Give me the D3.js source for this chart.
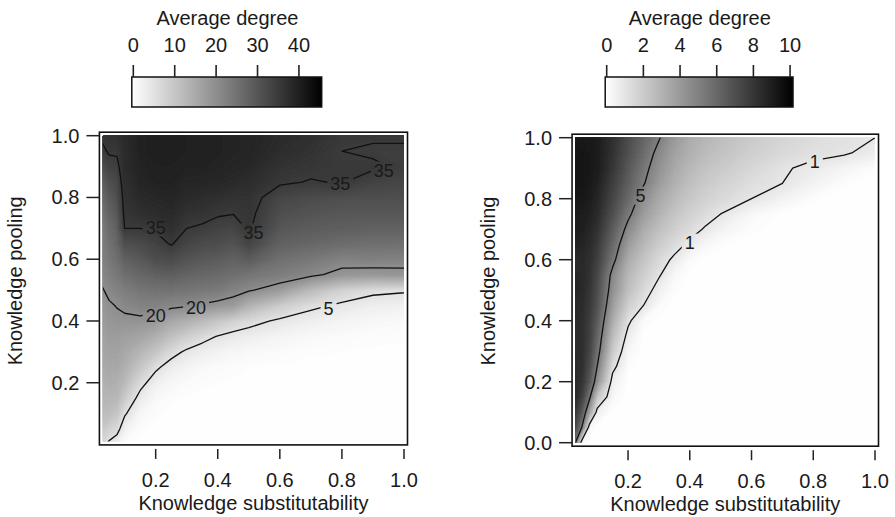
<!DOCTYPE html>
<html>
<head>
<meta charset="utf-8">
<script src="https://cdn.jsdelivr.net/npm/d3@7"></script>
<style>
  body { margin: 0; background: #fff; }
  text { font-family: "Liberation Sans", Arial, Helvetica, sans-serif; fill: #1a1a1a; }
</style>
</head>
<body>
<svg id="chart" width="895" height="517"></svg>
<script>
// GRID
// x nodes (knowledge substitutability) and y nodes (knowledge pooling)
var xNodes = [0.025, 0.05, 0.075, 0.1, 0.15, 0.2, 0.25, 0.3, 0.35, 0.4, 0.45, 0.5, 0.6, 0.7, 0.8, 0.9, 1.0];
var yNodes = [0, 0.05, 0.1, 0.15, 0.2, 0.25, 0.3, 0.35, 0.4, 0.45, 0.5, 0.55, 0.6, 0.65, 0.7, 0.75, 0.8, 0.85, 0.9, 0.95, 1.0];

// LEFT PANEL
// Average degree, one array per x node, read bottom (y=0) to top (y=1)
var leftCols = [
    [7, 10, 12, 13, 14, 15, 16, 16.5, 17, 18, 19.5, 21, 22, 22.5, 23, 24, 26, 28, 31, 34, 35.5],
    [4, 8, 11.5, 13, 14.5, 15.5, 16.5, 17.5, 18.5, 19.5, 21, 22.5, 24, 25, 26, 27.5, 29, 31, 33.5, 35.5, 36.5],
    [2.5, 6.5, 10, 12.5, 14, 15.5, 16.5, 17.5, 19, 20.2, 22, 24, 25.5, 27, 28, 29.5, 31, 32.5, 34, 35.5, 36.5],
    [0.5, 2.5, 5.5, 9, 12, 14, 15.5, 17, 19, 21, 23, 25.5, 28, 31, 35, 36, 36.5, 37, 37.5, 37.5, 38],
    [0, 0.5, 1.5, 3.5, 6.5, 10, 13, 16, 19, 22, 24.5, 27, 29.5, 32, 35, 37, 38, 38.8, 39.2, 39.5, 39.5],
    [0, 0, 0.5, 1.2, 2.8, 5.8, 10, 14, 18, 22, 25, 28, 31.5, 33.5, 35.5, 37.5, 38.5, 39.5, 39.7, 40, 40],
    [0, 0, 0, 0.5, 1.5, 3.2, 6.5, 11, 15.5, 21, 25, 28.5, 32, 35.3, 37, 38, 38.8, 39.5, 39.7, 40, 40],
    [0, 0, 0, 0.2, 0.8, 2, 4.3, 8.5, 14, 20.5, 24.5, 27.5, 30.5, 33, 35, 36.5, 38, 38.8, 39.5, 39.7, 39.7],
    [0, 0, 0, 0.1, 0.5, 1.2, 3, 6.5, 12, 19.5, 24, 27, 29.5, 32, 34.5, 36.2, 37.5, 38.8, 39.5, 39.7, 39.7],
    [0, 0, 0, 0, 0.3, 0.8, 2.2, 4.8, 10, 18.5, 23.5, 26.5, 29, 31.5, 33.5, 35.5, 37, 38.5, 39.2, 39.5, 39.5],
    [0, 0, 0, 0, 0.2, 0.5, 1.6, 3.6, 8, 17.5, 22, 25.5, 28, 30.5, 33, 35.2, 36.5, 38, 38.8, 39.2, 39.2],
    [0, 0, 0, 0, 0.1, 0.3, 1.2, 3, 6.5, 13.5, 20.5, 24.5, 29, 33, 35.5, 36, 36.5, 37.5, 38.5, 39, 39],
    [0, 0, 0, 0, 0, 0.2, 0.8, 2, 4.3, 9, 17.5, 23, 25.5, 28, 30, 31.5, 33, 35.5, 36.5, 37.5, 38],
    [0, 0, 0, 0, 0, 0.1, 0.4, 1.2, 2.8, 6, 12, 21, 24, 27, 29, 30.5, 32, 34.8, 35.8, 36.5, 37],
    [0, 0, 0, 0, 0, 0.1, 0.3, 0.8, 2, 4.2, 8, 18.5, 22, 26, 28.5, 30, 31.5, 35.2, 35.3, 35, 35.5],
    [0, 0, 0, 0, 0, 0, 0.2, 0.5, 1.3, 3, 6, 18, 22.5, 25.5, 28, 30, 31.5, 33.5, 35.5, 34.5, 35.5],
    [0, 0, 0, 0, 0, 0, 0.1, 0.4, 1.1, 2.6, 5.5, 18.5, 22, 25.5, 28, 30, 31.5, 33, 34.5, 34.5, 35.5]
];
var leftLevels = [5, 20, 35];
var leftLabels = [
    { level: 35, x: 0.2, y: 0.703 }, { level: 35, x: 0.515, y: 0.687 },
    { level: 35, x: 0.795, y: 0.845 }, { level: 35, x: 0.935, y: 0.887 },
    { level: 20, x: 0.2, y: 0.417 }, { level: 20, x: 0.33, y: 0.444 },
    { level: 5, x: 0.757, y: 0.44 }
];
var leftYTicks = [0.2, 0.4, 0.6, 0.8, 1.0];
var leftBarTicks = [0, 10, 20, 30, 40];

// RIGHT PANEL
// Average degree, one array per y node (bottom to top), values along xNodes
var rightRows = [
    [6, 0.3, 0, 0, 0, 0, 0, 0, 0, 0, 0, 0, 0, 0, 0, 0, 0],
    [7.5, 5, 0.3, 0, 0, 0, 0, 0, 0, 0, 0, 0, 0, 0, 0, 0, 0],
    [8, 6.5, 3.5, 0.6, 0, 0, 0, 0, 0, 0, 0, 0, 0, 0, 0, 0, 0],
    [8.5, 7.5, 5.3, 2.2, 0.3, 0, 0, 0, 0, 0, 0, 0, 0, 0, 0, 0, 0],
    [8.5, 8, 6.5, 4.2, 0.6, 0, 0, 0, 0, 0, 0, 0, 0, 0, 0, 0, 0],
    [8.5, 8.2, 7, 5, 1.3, 0.1, 0, 0, 0, 0, 0, 0, 0, 0, 0, 0, 0],
    [8.5, 8.3, 7.3, 5.6, 2, 0.3, 0, 0, 0, 0, 0, 0, 0, 0, 0, 0, 0],
    [8.5, 8.3, 7.5, 6, 2.6, 0.7, 0, 0, 0, 0, 0, 0, 0, 0, 0, 0, 0],
    [8.5, 8.3, 7.6, 6.4, 3.2, 1.2, 0.2, 0, 0, 0, 0, 0, 0, 0, 0, 0, 0],
    [8.5, 8.4, 7.8, 6.8, 3.8, 1.9, 1.0, 0.2, 0, 0, 0, 0, 0, 0, 0, 0, 0],
    [8.7, 8.5, 8, 7, 4.3, 2.5, 1.5, 0.6, 0.1, 0, 0, 0, 0, 0, 0, 0, 0],
    [8.7, 8.5, 8.1, 7.2, 4.6, 2.8, 1.9, 1.1, 0.3, 0, 0, 0, 0, 0, 0, 0, 0],
    [8.3, 8.5, 8.2, 7.5, 5.4, 3.3, 2.3, 1.5, 0.8, 0.2, 0, 0, 0, 0, 0, 0, 0],
    [8.8, 8.7, 8.4, 7.8, 5.9, 3.9, 2.8, 2.0, 1.4, 0.8, 0.3, 0.1, 0, 0, 0, 0, 0],
    [9, 8.9, 8.6, 8.1, 6.4, 4.6, 3.3, 2.5, 1.9, 1.4, 0.9, 0.5, 0.1, 0, 0, 0, 0],
    [9, 9, 8.8, 8.4, 6.9, 5.3, 3.9, 3, 2.3, 1.8, 1.4, 1.0, 0.3, 0, 0, 0, 0],
    [9.2, 9.2, 9, 8.6, 7.3, 5.9, 4.4, 3.4, 2.7, 2.2, 1.8, 1.5, 1.0, 0.5, 0.1, 0, 0],
    [9.3, 9.3, 9.1, 8.8, 7.6, 6.3, 5.1, 3.9, 3.1, 2.5, 2.1, 1.8, 1.3, 1.0, 0.5, 0.1, 0],
    [9.3, 9.3, 9.2, 9, 7.9, 6.6, 5.4, 4.3, 3.4, 2.8, 2.4, 2.1, 1.6, 1.1, 0.8, 0.4, 0.1],
    [9.2, 9.3, 9.2, 9, 8.1, 6.9, 5.8, 4.6, 3.7, 3.1, 2.7, 2.4, 1.9, 1.5, 1.2, 1.1, 0.7],
    [9, 9.2, 9.2, 9, 8.2, 7.1, 6.1, 5.1, 4, 3.3, 2.9, 2.6, 2.1, 1.7, 1.4, 1.2, 1.0]
];
var rightLevels = [1, 5];
var rightLabels = [
    { level: 5, x: 0.24, y: 0.81 },
    { level: 1, x: 0.40, y: 0.656 },
    { level: 1, x: 0.805, y: 0.923 }
];
var rightYTicks = [0.0, 0.2, 0.4, 0.6, 0.8, 1.0];
var rightBarTicks = [0, 2, 4, 6, 8, 10];

var xTicks = [0.2, 0.4, 0.6, 0.8, 1.0];

// FLATTEN
// d3.contours wants values[row * n + col]
var nx = xNodes.length, ny = yNodes.length;
var leftValues = [], rightValues = [];
for (var j = 0; j < ny; j++) {
    for (var i = 0; i < nx; i++) {
        leftValues.push(leftCols[i][j]);
        rightValues.push(rightRows[j][i]);
    }
}

var svg = d3.select("#chart");
var defs = svg.append("defs");

// grid index -> data coordinate (piecewise, nodes are not evenly spaced)
var xIdx = d3.scaleLinear().domain(d3.range(nx)).range(xNodes);
var yIdx = d3.scaleLinear().domain(d3.range(ny)).range(yNodes);

function fmt(v) { return d3.format(".1f")(v); }

// FUNCTION
// Draws one heat map panel with its contour lines and axes
function drawPanel(p) {
    var color = d3.scaleLinear().domain([0, p.max]).range(["#ffffff", "#000000"]).clamp(true);
    var proj = d3.geoTransform({
        point: function(gx, gy) {
            this.stream.point(p.x(xIdx(gx - 0.5)), p.y(yIdx(gy - 0.5)));
        }
    });
    var path = d3.geoPath(proj);

    var left = p.x(0.03), right = p.x(1.0), top = p.y(1.0), bottom = p.y(p.yMin);

    defs.append("clipPath").attr("id", p.id + "-clip")
      .append("rect")
        .attr("x", left).attr("y", top)
        .attr("width", right - left).attr("height", bottom - top);

    // filled bands
    var step = p.max / 150;
    var bands = d3.contours().size([nx, ny]).thresholds(d3.range(0, p.max, step))(p.values);
    var g = svg.append("g").attr("clip-path", "url(#" + p.id + "-clip)");
    g.selectAll("path.band")
        .data(bands)
      .enter().append("path")
        .attr("class", "band")
        .attr("d", path)
        .attr("fill", function(d) { return color(d.value + step / 2); })
        .attr("stroke", function(d) { return color(d.value + step / 2); })
        .attr("stroke-width", 0.4);

    // gaps in the lines where the labels go
    var mask = defs.append("mask").attr("id", p.id + "-mask")
        .attr("maskUnits", "userSpaceOnUse")
        .attr("x", 0).attr("y", 0).attr("width", 895).attr("height", 517);
    mask.append("rect").attr("width", 895).attr("height", 517).attr("fill", "#fff");
    mask.selectAll("rect.gap")
        .data(p.labels)
      .enter().append("rect")
        .attr("class", "gap")
        .attr("x", function(d) { return p.x(d.x) - (String(d.level).length * 10 + 6) / 2; })
        .attr("y", function(d) { return p.y(d.y) - 9; })
        .attr("width", function(d) { return String(d.level).length * 10 + 6; })
        .attr("height", 18)
        .attr("fill", "#000");

    var lines = d3.contours().size([nx, ny]).thresholds(p.levels)(p.values);
    g.append("g").attr("mask", "url(#" + p.id + "-mask)")
        .selectAll("path")
        .data(lines)
      .enter().append("path")
        .attr("d", path)
        .attr("fill", "none")
        .attr("stroke", "#111")
        .attr("stroke-width", 1.3)
        .attr("stroke-linejoin", "round");

    g.selectAll("text.lab")
        .data(p.labels)
      .enter().append("text")
        .attr("class", "lab")
        .attr("x", function(d) { return p.x(d.x); })
        .attr("y", function(d) { return p.y(d.y) + 6.5; })
        .attr("text-anchor", "middle")
        .style("font-size", "18px")
        .text(function(d) { return d.level; });

    // box, inset a little from the image
    var pad = 3.5;
    var bx0 = left - pad, bx1 = right + pad, by0 = top - pad, by1 = bottom + pad;
    svg.append("rect")
        .attr("x", bx0).attr("y", by0)
        .attr("width", bx1 - bx0).attr("height", by1 - by0)
        .attr("fill", "none")
        .attr("stroke", "#111")
        .attr("stroke-width", 1.6);

    // y axis
    var ya = svg.append("g");
    ya.selectAll("line")
        .data(p.yTicks)
      .enter().append("line")
        .attr("x1", bx0 - 13).attr("x2", bx0)
        .attr("y1", function(d) { return p.y(d); })
        .attr("y2", function(d) { return p.y(d); })
        .attr("stroke", "#222").attr("stroke-width", 1.5);
    ya.selectAll("text")
        .data(p.yTicks)
      .enter().append("text")
        .attr("x", bx0 - 20)
        .attr("y", function(d) { return p.y(d) + 7; })
        .attr("text-anchor", "end")
        .style("font-size", "20px")
        .text(fmt);

    // x axis
    var xa = svg.append("g");
    xa.selectAll("line")
        .data(xTicks)
      .enter().append("line")
        .attr("x1", function(d) { return p.x(d); })
        .attr("x2", function(d) { return p.x(d); })
        .attr("y1", by1 + 4).attr("y2", by1 + 14)
        .attr("stroke", "#222").attr("stroke-width", 1.5);
    xa.selectAll("text")
        .data(xTicks)
      .enter().append("text")
        .attr("x", function(d) { return p.x(d); })
        .attr("y", by1 + 42)
        .attr("text-anchor", "middle")
        .style("font-size", "20px")
        .text(fmt);

    svg.append("text")
        .attr("x", (bx0 + bx1) / 2)
        .attr("y", by1 + 65)
        .attr("text-anchor", "middle")
        .style("font-size", "20px")
        .text("Knowledge substitutability");

    svg.append("text")
        .attr("transform", "translate(" + (bx0 - 77) + "," + p.y(0.53) + ") rotate(-90)")
        .attr("text-anchor", "middle")
        .style("font-size", "20px")
        .text("Knowledge pooling");

    // colour bar
    var s = d3.scaleLinear().domain([0, p.max]).range(p.barRange);
    var grad = defs.append("linearGradient").attr("id", p.id + "-grad")
        .attr("x1", "0%").attr("x2", "100%").attr("y1", "0%").attr("y2", "0%");
    grad.selectAll("stop")
        .data(d3.range(0, 1.0001, 0.1))
      .enter().append("stop")
        .attr("offset", function(d) { return (d * 100) + "%"; })
        .attr("stop-color", function(d) { return color(d * p.max); });

    var barTop = 77, barH = 30;
    svg.append("rect")
        .attr("x", s(0) - 1.5).attr("y", barTop)
        .attr("width", s(p.max) - s(0) + 1.5).attr("height", barH)
        .attr("fill", "url(#" + p.id + "-grad)")
        .attr("stroke", "#111").attr("stroke-width", 1.5);

    var cb = svg.append("g");
    cb.selectAll("line")
        .data(p.barTicks)
      .enter().append("line")
        .attr("x1", function(d) { return s(d); })
        .attr("x2", function(d) { return s(d); })
        .attr("y1", barTop - 12).attr("y2", barTop)
        .attr("stroke", "#222").attr("stroke-width", 1.6);
    cb.selectAll("text")
        .data(p.barTicks)
      .enter().append("text")
        .attr("x", function(d) { return s(d); })
        .attr("y", 51.5)
        .attr("text-anchor", "middle")
        .style("font-size", "20px")
        .text(function(d) { return d; });

    svg.append("text")
        .attr("x", (s(0) + s(p.max)) / 2)
        .attr("y", 25)
        .attr("text-anchor", "middle")
        .style("font-size", "20px")
        .text("Average degree");
}

drawPanel({
    id: "left",
    values: leftValues,
    levels: leftLevels,
    labels: leftLabels,
    yTicks: leftYTicks,
    barTicks: leftBarTicks,
    max: 45.5,
    yMin: 0.01,
    x: d3.scaleLinear().domain([0, 1]).range([93.6, 404]),
    y: d3.scaleLinear().domain([0, 1]).range([444.5, 135.7]),
    barRange: [133.3, 321.7]
});

drawPanel({
    id: "right",
    values: rightValues,
    levels: rightLevels,
    labels: rightLabels,
    yTicks: rightYTicks,
    barTicks: rightBarTicks,
    max: 10.16,
    yMin: 0,
    x: d3.scaleLinear().domain([0, 1]).range([566.3, 875]),
    y: d3.scaleLinear().domain([0, 1]).range([442.7, 137.7]),
    barRange: [606.7, 793]
});
</script>
</body>
</html>
